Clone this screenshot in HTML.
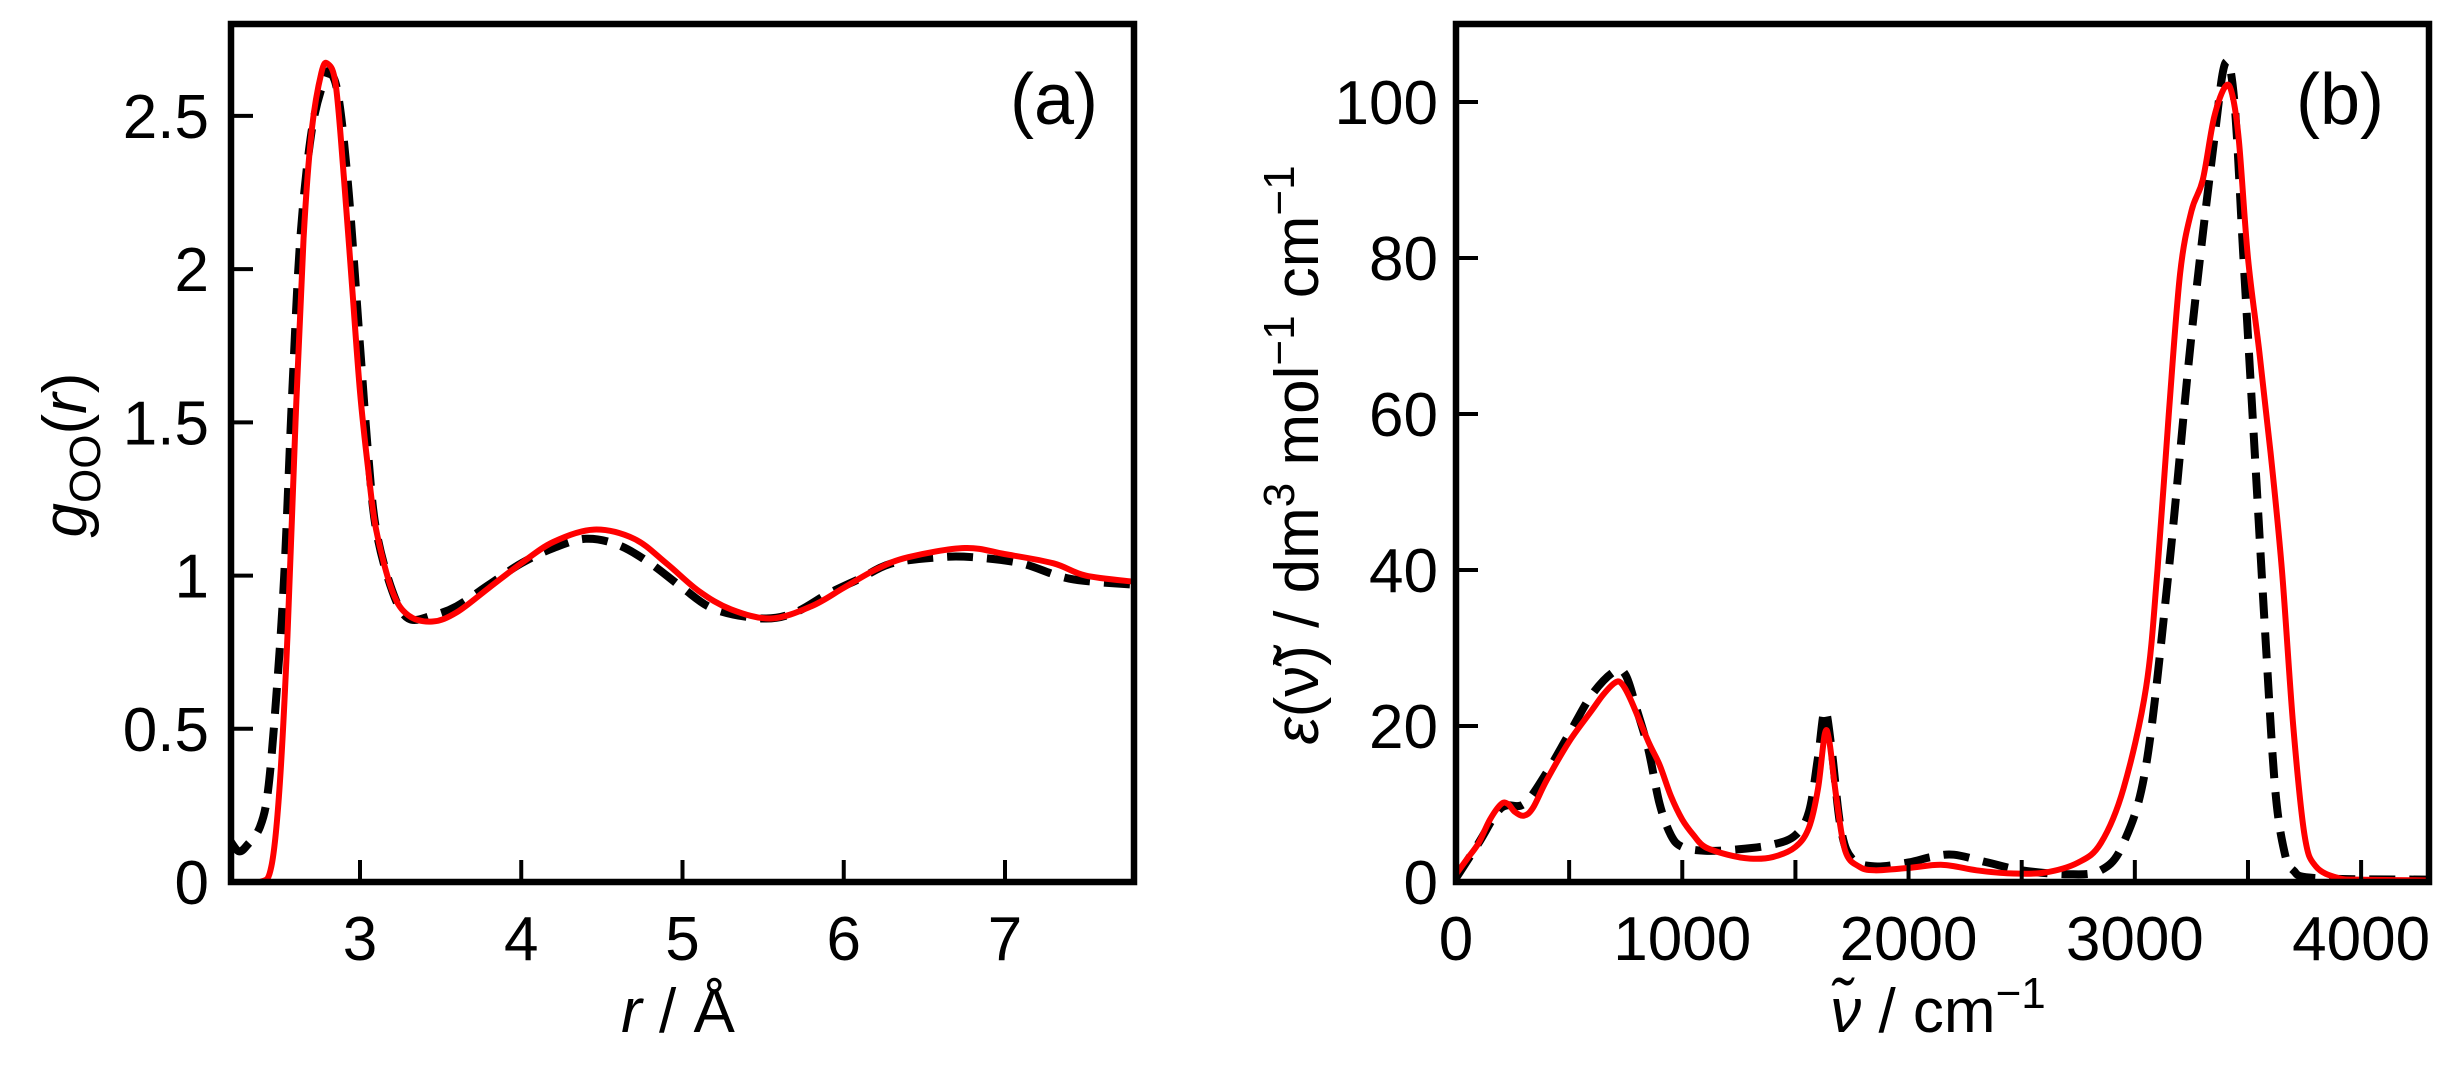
<!DOCTYPE html>
<html><head><meta charset="utf-8"><style>
html,body{margin:0;padding:0;background:#fff;}
svg{display:block;font-family:"Liberation Sans",sans-serif;}
</style></head><body>
<svg id="s" width="2460" height="1070" xmlns="http://www.w3.org/2000/svg">
<g id="g"></g>
</svg>
<script>
var NS="http://www.w3.org/2000/svg",G=document.getElementById('g');
function el(t,a,txt){var e=document.createElementNS(NS,t);for(var k in a)e.setAttribute(k,a[k]);if(txt!=null)e.textContent=txt;G.appendChild(e);return e;}
function path(pts,X,Y,st){var p=pts.map(function(q){return [X(q[0]),Y(q[1])];});
 var d="M"+p[0][0]+","+p[0][1];
 for(var i=0;i<p.length-1;i++){var p0=p[i-1]||p[i],p1=p[i],p2=p[i+1],p3=p[i+2]||p2;
  var c1=[p1[0]+(p2[0]-p0[0])/6,p1[1]+(p2[1]-p0[1])/6],c2=[p2[0]-(p3[0]-p1[0])/6,p2[1]-(p3[1]-p1[1])/6];
  d+="C"+c1[0]+","+c1[1]+" "+c2[0]+","+c2[1]+" "+p2[0]+","+p2[1];}
 st.d=d;st.fill="none";el('path',st);}
// Panel a
var aL=231,aR=1134,aT=24,aB=882;
var ax=function(v){return aL+(v-2.2)/(5.6)*(aR-aL);},ay=function(v){return aB-v/2.8*(aB-aT);};
var blackA=[[2.2,0.13],[2.25,0.1],[2.3,0.12],[2.38,0.18],[2.43,0.3],[2.48,0.6],[2.53,1.0],[2.58,1.6],[2.63,2.1],[2.7,2.45],[2.78,2.62],[2.82,2.64],[2.87,2.55],[2.93,2.25],[3.0,1.75],[3.05,1.4],[3.1,1.15],[3.2,0.95],[3.3,0.86],[3.45,0.87],[3.6,0.9],[3.8,0.97],[4.0,1.04],[4.2,1.09],[4.4,1.12],[4.6,1.1],[4.8,1.04],[5.0,0.96],[5.2,0.89],[5.5,0.86],[5.7,0.88],[5.9,0.94],[6.1,0.99],[6.3,1.04],[6.6,1.06],[6.8,1.06],[7.1,1.04],[7.4,0.99],[7.8,0.97]];
var redA=[[2.2,0],[2.38,0],[2.45,0.05],[2.5,0.3],[2.55,0.8],[2.6,1.5],[2.65,2.1],[2.7,2.45],[2.76,2.64],[2.8,2.67],[2.85,2.6],[2.9,2.3],[2.95,1.95],[3.0,1.6],[3.05,1.35],[3.1,1.15],[3.2,0.95],[3.3,0.87],[3.45,0.85],[3.6,0.88],[3.8,0.96],[4.0,1.04],[4.2,1.11],[4.45,1.15],[4.7,1.12],[4.9,1.04],[5.1,0.95],[5.3,0.89],[5.55,0.86],[5.8,0.9],[6.0,0.96],[6.2,1.02],[6.4,1.06],[6.75,1.09],[7.0,1.07],[7.3,1.04],[7.5,1.0],[7.8,0.98]];
var clipA=el('clipPath',{id:'ca'});var r=document.createElementNS(NS,'rect');r.setAttribute('x',aL);r.setAttribute('y',aT);r.setAttribute('width',aR-aL);r.setAttribute('height',aB-aT);clipA.appendChild(r);
path(blackA,ax,ay,{stroke:"#000","stroke-width":8,"stroke-dasharray":"26 14","clip-path":"url(#ca)"});
path(redA,ax,ay,{stroke:"#f00","stroke-width":6,"clip-path":"url(#ca)"});
[3,4,5,6,7].forEach(function(v){el('line',{x1:ax(v),x2:ax(v),y1:aB,y2:aB-22,stroke:"#000","stroke-width":4});el('text',{x:ax(v),y:960,"font-size":62,"text-anchor":"middle"},v);});
[[0,"0"],[0.5,"0.5"],[1,"1"],[1.5,"1.5"],[2,"2"],[2.5,"2.5"]].forEach(function(t){el('line',{x1:aL,x2:aL+22,y1:ay(t[0]),y2:ay(t[0]),stroke:"#000","stroke-width":4});el('text',{x:209,y:ay(t[0])+22,"font-size":62,"text-anchor":"end"},t[1]);});
el('rect',{x:aL,y:aT,width:aR-aL,height:aB-aT,fill:"none",stroke:"#000","stroke-width":6.5});
el('text',{x:1098,y:124,"font-size":72,"text-anchor":"end"},"(a)");
var t=el('text',{x:678,y:1032,"font-size":62,"text-anchor":"middle"});t.innerHTML='<tspan font-style="italic">r</tspan> / Å';
t=el('text',{transform:"translate(86,455) rotate(-90)","font-size":62,"text-anchor":"middle"});t.innerHTML='<tspan font-style="italic">g</tspan><tspan font-size="44" dy="14">OO</tspan><tspan dy="-14">(</tspan><tspan font-style="italic">r</tspan>)';
// Panel b
var bL=1456,bR=2429,bT=24,bB=882;
var bx=function(v){return bL+v/4300*(bR-bL);},by=function(v){return bB-v/110*(bB-bT);};
var blackB=[[0,0.5],[100,5],[200,9.5],[300,10],[400,14],[500,19],[600,24],[700,27],[750,26.5],[800,22],[850,17],[900,10],[950,6],[1000,4.5],[1100,4],[1250,4.2],[1400,4.8],[1500,6],[1560,9],[1600,16],[1630,22],[1660,17],[1700,7],[1750,3],[1850,2],[2000,2.5],[2100,3.2],[2200,3.5],[2350,2.5],[2500,1.5],[2700,1.0],[2850,1.5],[2950,5],[3050,15],[3150,40],[3250,70],[3350,95],[3400,105],[3440,100],[3480,80],[3530,55],[3580,30],[3620,12],[3660,4],[3700,1.5],[3800,0.5],[4300,0.3]];
var redB=[[0,1],[50,3],[100,5],[150,8],[200,10],[230,10],[260,9],[300,8.5],[340,9.5],[400,13],[500,18],[600,22],[650,24],[700,25.5],[730,25.5],[770,23.5],[850,18],[900,15],[950,11],[1000,8],[1050,6],[1100,4.5],[1200,3.5],[1300,3],[1400,3.2],[1500,4.5],[1560,7],[1600,12],[1630,19],[1650,18],[1680,11],[1720,4],[1780,2],[1850,1.5],[2000,1.8],[2150,2.2],[2300,1.5],[2450,1.1],[2600,1.2],[2750,2.5],[2850,5],[2950,12],[3050,25],[3100,40],[3150,60],[3200,78],[3250,86],[3300,90],[3350,98],[3400,102],[3430,101],[3460,95],[3500,80],[3550,68],[3600,55],[3650,40],[3700,20],[3750,6],[3800,2],[3900,0.5],[4000,0.3],[4300,0.2]];
var clipB=el('clipPath',{id:'cb'});r=document.createElementNS(NS,'rect');r.setAttribute('x',bL);r.setAttribute('y',bT);r.setAttribute('width',bR-bL);r.setAttribute('height',bB-bT);clipB.appendChild(r);
path(blackB,bx,by,{stroke:"#000","stroke-width":8,"stroke-dasharray":"26 14","clip-path":"url(#cb)"});
path(redB,bx,by,{stroke:"#f00","stroke-width":6,"clip-path":"url(#cb)"});
for(var v=500;v<=4000;v+=500)el('line',{x1:bx(v),x2:bx(v),y1:bB,y2:bB-22,stroke:"#000","stroke-width":4});
[0,1000,2000,3000,4000].forEach(function(v){el('text',{x:bx(v),y:960,"font-size":62,"text-anchor":"middle"},v);});
for(v=0;v<=100;v+=20){el('line',{x1:bL,x2:bL+22,y1:by(v),y2:by(v),stroke:"#000","stroke-width":4});el('text',{x:1438,y:by(v)+22,"font-size":62,"text-anchor":"end"},v);}
el('rect',{x:bL,y:bT,width:bR-bL,height:bB-bT,fill:"none",stroke:"#000","stroke-width":6.5});
el('text',{x:2384,y:124,"font-size":72,"text-anchor":"end"},"(b)");
t=el('text',{x:1938,y:1032,"font-size":62,"text-anchor":"middle"});t.innerHTML='<tspan font-style="italic">ν̃</tspan> / cm<tspan font-size="44" dy="-24">−1</tspan>';
t=el('text',{transform:"translate(1318,455) rotate(-90)","font-size":62,"text-anchor":"middle"});t.innerHTML='<tspan font-style="italic">ε</tspan>(ν̃) / dm<tspan font-size="44" dy="-24">3</tspan><tspan dy="24"> mol</tspan><tspan font-size="44" dy="-24">−1</tspan><tspan dy="24"> cm</tspan><tspan font-size="44" dy="-24">−1</tspan>';
</script>
</body></html>
